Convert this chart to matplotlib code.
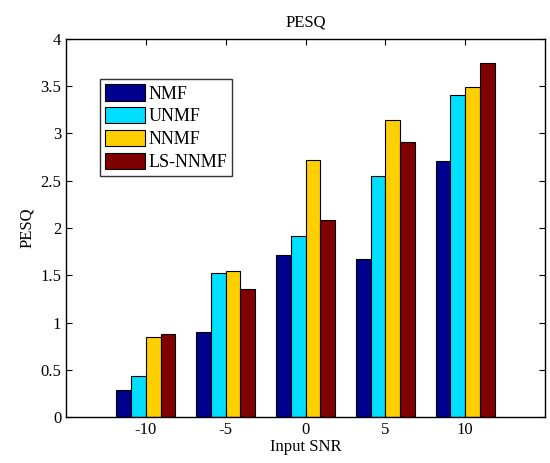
import matplotlib
matplotlib.use("Agg")
import matplotlib.pyplot as plt
import numpy as np

plt.rcParams['font.family'] = ['Liberation Serif', 'DejaVu Serif']

categories = ['-10', '-5', '0', '5', '10']
series_names = ['NMF', 'UNMF', 'NNMF', 'LS-NNMF']
nmf = [0.29, 0.90, 1.71, 1.67, 2.71]
unmf = [0.43, 1.52, 1.92, 2.55, 3.41]
nnmf = [0.85, 1.55, 2.72, 3.14, 3.49]
lsnnmf = [0.88, 1.35, 2.08, 2.91, 3.75]
colors = ['#00008F', '#00DFFF', '#FFCF00', '#800000']

fig = plt.figure(figsize=(5.5, 4.63), dpi=100)
ax = fig.add_axes([0.12, 0.099, 0.871, 0.817])

x = np.arange(1, len(categories) + 1)
w = 0.185
data = [nmf, unmf, nnmf, lsnnmf]
for i, (vals, name, c) in enumerate(zip(data, series_names, colors)):
    ax.bar(x + (i - 1.5) * w, vals, width=w, color=c, edgecolor='black',
           linewidth=0.8, label=name)

ax.set_xlim(0, 6)
ax.set_ylim(0, 4)
ax.set_xticks(x)
ax.set_xticklabels(categories)
ax.set_yticks(np.arange(0, 4.01, 0.5))
ax.set_yticklabels(['0', '0.5', '1', '1.5', '2', '2.5', '3', '3.5', '4'])
ax.tick_params(direction='in', top=True, right=True, labelsize=12, length=4)
for s in ax.spines.values():
    s.set_linewidth(1.0)
ax.set_xlabel('Input SNR', fontsize=12, labelpad=1)
ax.set_ylabel('PESQ', fontsize=12)
ax.set_title('PESQ', fontsize=12, pad=9)

leg = ax.legend(loc='upper left', bbox_to_anchor=(0.07, 0.894), fontsize=13,
                frameon=True, fancybox=False, edgecolor='black',
                handlelength=2.2, handleheight=1.0, handletextpad=0.2,
                borderpad=0.3, labelspacing=0.25, borderaxespad=0)
leg.get_frame().set_linewidth(1.0)

fig.savefig('out.png', dpi=100)
